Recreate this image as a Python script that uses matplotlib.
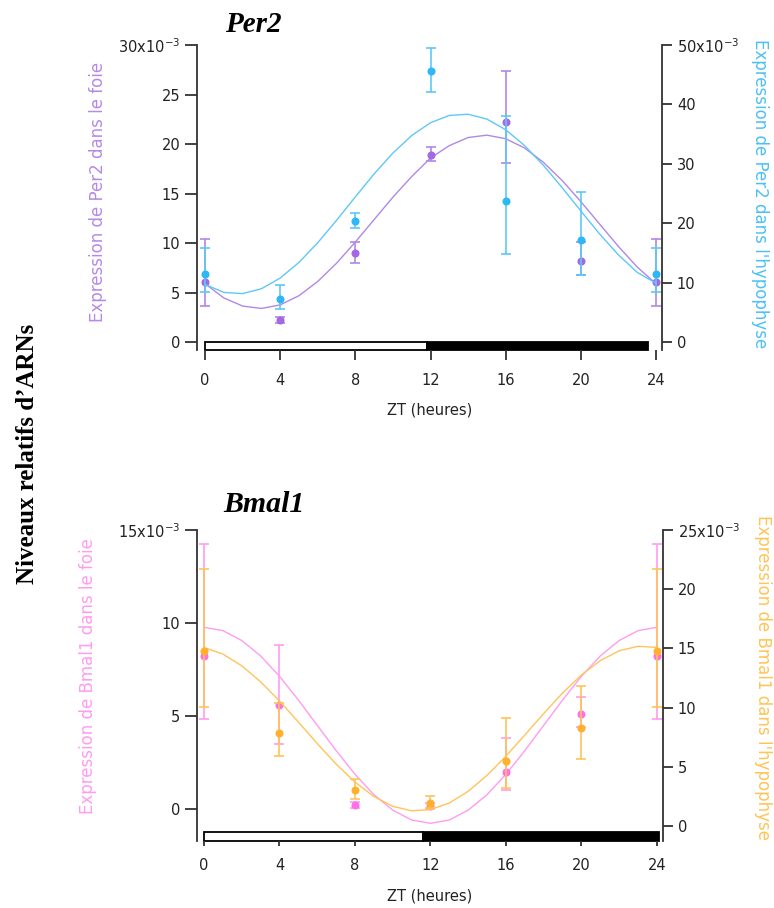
import numpy as np
import matplotlib.pyplot as plt
import matplotlib.transforms as mtransforms
from matplotlib.patches import Rectangle

plt.rcParams['font.family'] = ['DejaVu Sans']
plt.rcParams['mathtext.fontset'] = 'dejavusans'
plt.rcParams['mathtext.default'] = 'regular'

# ===== data (values in 10^-3) =====
zt = [0, 4, 8, 12, 16, 20, 24]
zt_fit = list(range(25))

# Per2 - foie (left axis)
per2_foie = [6.06, 2.2, 9.0, 18.9, 22.2, 8.2, 6.06]
per2_foie_lo = [3.64, 1.9, 8.0, 18.3, 18.1, 6.8, 3.64]
per2_foie_hi = [10.4, 2.5, 10.1, 19.7, 27.4, 10.1, 10.4]
per2_foie_fit = [5.9, 4.46, 3.64, 3.40, 3.76, 4.69, 6.13, 7.97, 10.11, 12.38, 14.64, 16.72, 18.6,
                 19.84, 20.66, 20.90, 20.54, 19.61, 18.17, 16.33, 14.19, 11.92, 9.66, 7.58, 5.9]

# Per2 - hypophyse (right axis)
per2_hyp = [11.4, 7.2, 20.4, 45.6, 23.7, 17.2, 11.4]
per2_hyp_lo = [8.4, 5.6, 19.2, 42.1, 14.8, 11.3, 8.4]
per2_hyp_hi = [15.8, 9.6, 21.7, 49.5, 38.0, 25.3, 15.8]
per2_hyp_fit = [9.7, 8.35, 8.15, 8.97, 10.77, 13.41, 16.73, 20.49, 24.44, 28.31, 31.83, 34.77, 36.92,
                38.15, 38.35, 37.53, 35.74, 33.09, 29.77, 26.01, 22.06, 18.19, 14.67, 11.73, 9.9]

# Bmal1 - foie (left axis)
bmal_foie = [8.2, 5.6, 0.2, 0.15, 2.0, 5.1, 8.2]
bmal_foie_lo = [4.84, 3.5, 0.05, 0.0, 1.0, 4.4, 4.84]
bmal_foie_hi = [14.25, 8.8, 0.35, 0.3, 3.8, 6.0, 14.25]
bmal_foie_fit = [9.77, 9.59, 9.06, 8.23, 7.14, 5.86, 4.50, 3.14, 1.87, 0.77, -0.06, -0.59, -0.77,
                 -0.59, -0.06, 0.77, 1.87, 3.14, 4.50, 5.86, 7.14, 8.23, 9.06, 9.59, 9.77]

# Bmal1 - hypophyse (right axis)
bmal_hyp = [14.8, 7.85, 3.04, 1.95, 5.5, 8.3, 14.8]
bmal_hyp_lo = [10.05, 5.9, 2.3, 1.5, 3.2, 5.65, 10.05]
bmal_hyp_hi = [21.7, 10.4, 4.0, 2.5, 9.1, 11.8, 21.7]
bmal_hyp_fit = [15.08, 14.52, 13.53, 12.18, 10.56, 8.78, 6.96, 5.23, 3.70, 2.49, 1.66, 1.28, 1.38,
                1.94, 2.93, 4.28, 5.90, 7.68, 9.50, 11.23, 12.76, 13.97, 14.80, 15.18, 15.08]

xticks = [0, 4, 8, 12, 16, 20, 24]

c_purple, c_purple_l = '#a468e2', '#b088e8'
c_blue, c_blue_l = '#2db8f5', '#5ec8f7'
c_pink, c_pink_l = '#ff70e8', '#ff9cf0'
c_orange, c_orange_l = '#ffb12e', '#ffc45a'
axis_col = '#333333'
txt_col = '#222222'


def err(mean, lo, hi):
    m = np.array(mean)
    return m, [m - np.array(lo), np.array(hi) - m]


def style_axis(ax, side, length):
    for s in ['top', 'bottom', 'left', 'right']:
        ax.spines[s].set_visible(False)
    ax.spines[side].set_visible(True)
    ax.spines[side].set_color(axis_col)
    ax.spines[side].set_linewidth(1.3)
    ax.tick_params(axis='y', direction='out', length=length, width=1.3, color=axis_col,
                   labelsize=10.5, labelcolor=txt_col, pad=3.5)


def panel(rect, xlim, ylim_l, ylim_r, ticks_l, labels_l, ticks_r, labels_r,
          left, right, fit_l, fit_r, col_l, col_r, lab_l, lab_r, bar, bar_h,
          xtick_len, lab_pos):
    ax = fig.add_axes(rect)
    ax2 = ax.twinx()
    ax.set_zorder(1)
    ax2.set_zorder(2)
    ax.patch.set_visible(False)
    ax2.patch.set_visible(False)

    # light / dark bar
    trans = mtransforms.blended_transform_factory(ax.transData, ax.transAxes)
    ax.add_patch(Rectangle((bar[0], 0), bar[1] - bar[0], bar_h, transform=trans,
                           facecolor='white', edgecolor='black', lw=1.3, clip_on=False))
    ax.add_patch(Rectangle((bar[1], 0), bar[2] - bar[1], bar_h, transform=trans,
                           facecolor='black', edgecolor='black', lw=1.3, clip_on=False))

    m, e = err(*left)
    ax.plot(zt_fit, fit_l, color=col_l[1], lw=1.0)
    ax.errorbar(zt, m, yerr=e, fmt='o', color=col_l[0], ecolor=col_l[1], ms=4.8,
                capsize=3.5, elinewidth=1.2, capthick=1.2)
    m, e = err(*right)
    ax2.plot(zt_fit, fit_r, color=col_r[1], lw=1.0)
    ax2.errorbar(zt, m, yerr=e, fmt='o', color=col_r[0], ecolor=col_r[1], ms=4.8,
                 capsize=3.5, elinewidth=1.2, capthick=1.2)

    ax.set_xlim(xlim)
    ax.set_ylim(ylim_l)
    ax2.set_ylim(ylim_r)
    style_axis(ax, 'left', 8.5)
    style_axis(ax2, 'right', 7.2)
    ax.set_yticks(ticks_l)
    ax.set_yticklabels(labels_l)
    ax2.set_yticks(ticks_r)
    ax2.set_yticklabels(labels_r)

    ax.set_xticks(xticks)
    ax.set_xticklabels([str(t) for t in xticks])
    ax.tick_params(axis='x', direction='out', length=xtick_len, width=1.3, color=axis_col,
                   labelsize=10.5, labelcolor=txt_col, pad=9.0)
    ax2.tick_params(axis='x', bottom=False, labelbottom=False)
    ax.set_xlabel('ZT (heures)', fontsize=10.5, color=txt_col, labelpad=10.5)

    ax.set_ylabel(lab_l, color=col_l[2], fontsize=12, va='center')
    ax.yaxis.set_label_coords(lab_pos[0], lab_pos[1])
    ax2.set_ylabel(lab_r, color=col_r[2], fontsize=12, rotation=-90, va='center')
    ax2.yaxis.set_label_coords(lab_pos[2], lab_pos[3])
    return ax, ax2


fig = plt.figure(figsize=(7.74, 9.08), dpi=100)

panel([0.2545, 0.6145, 0.6008, 0.3359], (-0.43, 24.32), (-0.8, 30), (-1.35, 50),
      [0, 5, 10, 15, 20, 25, 30], ['0', '5', '10', '15', '20', '25', '30x10$^{-3}$'],
      [0, 10, 20, 30, 40, 50], ['0', '10', '20', '30', '40', '50x10$^{-3}$'],
      (per2_foie, per2_foie_lo, per2_foie_hi), (per2_hyp, per2_hyp_lo, per2_hyp_hi),
      per2_foie_fit, per2_hyp_fit,
      (c_purple, c_purple_l, '#b48ae6'), (c_blue, c_blue_l, '#4cc0f5'),
      'Expression de Per2 dans le foie', "Expression de Per2 dans l'hypophyse",
      (0, 11.8, 23.6), 0.026, 7.5, (-0.213, 0.518, 1.21, 0.513))

panel([0.2545, 0.0738, 0.6021, 0.3425], (-0.37, 24.32), (-1.72, 15), (-1.27, 25),
      [0, 5, 10, 15], ['0', '5', '10', '15x10$^{-3}$'],
      [0, 5, 10, 15, 20, 25], ['0', '5', '10', '15', '20', '25x10$^{-3}$'],
      (bmal_foie, bmal_foie_lo, bmal_foie_hi), (bmal_hyp, bmal_hyp_lo, bmal_hyp_hi),
      bmal_foie_fit, bmal_hyp_fit,
      (c_pink, c_pink_l, '#ff9cf0'), (c_orange, c_orange_l, '#ffc455'),
      'Expression de Bmal1 dans le foie', "Expression de Bmal1 dans l'hypophyse",
      (0, 11.6, 24.1), 0.029, 3.6, (-0.234, 0.53, 1.215, 0.525))

fig.text(253 / 774, 1 - 24 / 908, 'Per2', family='Liberation Serif', weight='bold',
         style='italic', fontsize=21, ha='center', va='center')
fig.text(264 / 774, 1 - 505 / 908, 'Bmal1', family='Liberation Serif', weight='bold',
         style='italic', fontsize=21.5, ha='center', va='center')
fig.text(28 / 774, 1 - 454 / 908, 'Niveaux relatifs d’ARNs', family='Liberation Serif',
         weight='bold', fontsize=18, rotation=90, ha='center', va='center')

plt.savefig('out.png', dpi=100)
plt.close()
